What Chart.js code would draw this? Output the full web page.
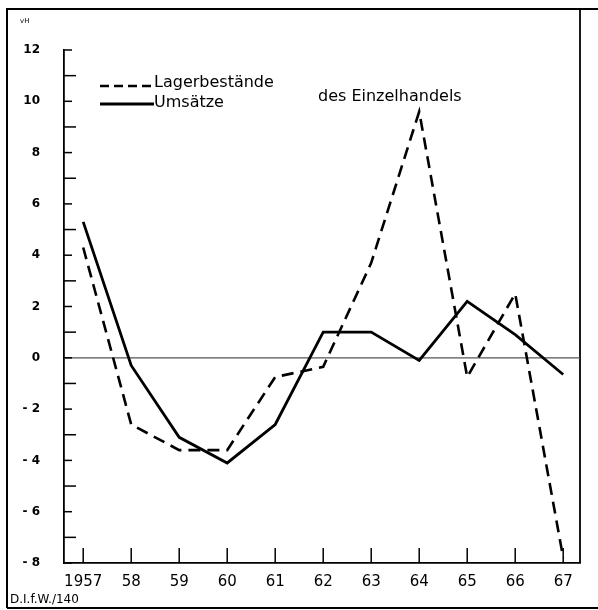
<!DOCTYPE html>
<html>
<head>
<meta charset="utf-8">
<script src="https://cdn.jsdelivr.net/npm/chart.js@4.4.1/dist/chart.umd.min.js"></script>
<style>
html,body{margin:0;padding:0;background:#fff;}
#wrap{width:598px;height:610px;position:relative;}
</style>
</head>
<body>
<div id="wrap"><canvas id="c" width="598" height="610"></canvas></div>
<script>
const years = [1957,1958,1959,1960,1961,1962,1963,1964,1965,1966,1967];
const xTickLabels = ['1957','58','59','60','61','62','63','64','65','66','67'];
const lagerbestaende = [4.3,-2.6,-3.6,-3.6,-0.75,-0.35,3.7,9.6,-0.75,2.5,-7.8];
const umsaetze = [5.3,-0.3,-3.1,-4.1,-2.6,1.0,1.0,-0.1,2.2,0.9,-0.65];
const yTickLabels = {12:'12',10:'10',8:'8',6:'6',4:'4',2:'2',0:'0','-2':'- 2','-4':'- 4','-6':'- 6','-8':'- 8'};
const seriesNames = ['Lagerbestände','Umsätze'];
const subtitle = 'des Einzelhandels';
const unitLabel = 'vH';
const sourceLabel = 'D.I.f.W./140';

const toXY = arr => arr.map((v,i)=>({x:years[i], y:v}));

const decor = {
  id:'decor',
  beforeDatasetsDraw(chart){
    const ctx = chart.ctx, ca = chart.chartArea;
    const xs = chart.scales.x, ys = chart.scales.y;
    ctx.save();
    // outer frame
    ctx.strokeStyle='#000'; ctx.lineWidth=2;
    ctx.beginPath();
    ctx.moveTo(7,608); ctx.lineTo(7,9); ctx.lineTo(598,9);
    ctx.stroke();
    ctx.beginPath(); ctx.moveTo(7,608); ctx.lineTo(598,608); ctx.stroke();
    ctx.lineWidth=1.8;
    ctx.beginPath(); ctx.moveTo(ca.right,9); ctx.lineTo(ca.right,ca.bottom); ctx.stroke();
    // zero line
    ctx.strokeStyle='#555'; ctx.lineWidth=1.2;
    const y0 = ys.getPixelForValue(0);
    ctx.beginPath(); ctx.moveTo(ca.left,y0); ctx.lineTo(ca.right,y0); ctx.stroke();
    // inward ticks y
    ctx.strokeStyle='#000'; ctx.lineWidth=1.5;
    ys.ticks.forEach(t=>{
      const p = ys.getPixelForValue(t.value);
      const len = (Math.abs(t.value)%2===1)?12:8;
      ctx.beginPath(); ctx.moveTo(ca.left,p); ctx.lineTo(ca.left+len,p); ctx.stroke();
    });
    // inward ticks x
    xs.ticks.forEach(t=>{
      const p = xs.getPixelForValue(t.value);
      ctx.beginPath(); ctx.moveTo(p,ca.bottom); ctx.lineTo(p,ca.bottom-15); ctx.stroke();
    });
    ctx.restore();
  },
  afterDatasetsDraw(chart){
    const ctx = chart.ctx;
    ctx.save();
    ctx.fillStyle='#000'; ctx.strokeStyle='#000';
    // legend
    ctx.lineWidth=2.5;
    ctx.setLineDash([9,5]);
    ctx.beginPath(); ctx.moveTo(100,86); ctx.lineTo(154,86); ctx.stroke();
    ctx.setLineDash([]);
    ctx.lineWidth=3;
    ctx.beginPath(); ctx.moveTo(100,104); ctx.lineTo(154,104); ctx.stroke();
    ctx.font='16px "DejaVu Sans"'; ctx.textBaseline='middle'; ctx.textAlign='left';
    ctx.fillText(chart.data.datasets[0].label,154,83);
    ctx.fillText(chart.data.datasets[1].label,154,103);
    ctx.fillText(subtitle,318,97);
    // unit
    ctx.font='7px "DejaVu Sans"';
    ctx.fillText(unitLabel,20,21);
    // source
    ctx.font='12px "DejaVu Sans"'; ctx.textBaseline='alphabetic';
    ctx.fillText(sourceLabel,10,603);
    ctx.restore();
  }
};

new Chart(document.getElementById('c'),{
  type:'line',
  data:{
    datasets:[
      {label:seriesNames[0], data:toXY(lagerbestaende), borderColor:'#000', borderWidth:2.6, borderDash:[12,7], pointRadius:0, tension:0, fill:false},
      {label:seriesNames[1], data:toXY(umsaetze), borderColor:'#000', borderWidth:2.8, pointRadius:0, tension:0, fill:false}
    ]
  },
  options:{
    responsive:false, animation:false,
    layout:{padding:{left:0,top:50,right:18,bottom:0}},
    plugins:{legend:{display:false}, tooltip:{enabled:false}},
    scales:{
      x:{
        type:'linear', min:1956.6, max:1967.35,
        afterBuildTicks(s){ s.ticks = years.map(v=>({value:v})); },
        afterFit(s){ s.height = 47; },
        grid:{display:false, drawTicks:false},
        border:{display:true,color:'#000',width:1.8},
        ticks:{color:'#000', font:{family:'DejaVu Sans', size:15}, padding:10, maxRotation:0, autoSkip:false,
          callback:(v)=>{ const i=years.indexOf(v); return i>=0?xTickLabels[i]:''; }}
      },
      y:{
        type:'linear', min:-8, max:12,
        afterBuildTicks(s){ const t=[]; for(let v=-8; v<=12; v++) t.push({value:v}); s.ticks=t; },
        afterFit(s){ s.width = 64; },
        grid:{display:false, drawTicks:false},
        border:{display:true,color:'#000',width:1.8},
        ticks:{color:'#000', font:{family:'DejaVu Sans', size:12, weight:'bold'}, padding:24, autoSkip:false,
          callback:(v)=> (yTickLabels[v] !== undefined ? yTickLabels[v] : '')}
      }
    }
  },
  plugins:[decor]
});
</script>
</body>
</html>
